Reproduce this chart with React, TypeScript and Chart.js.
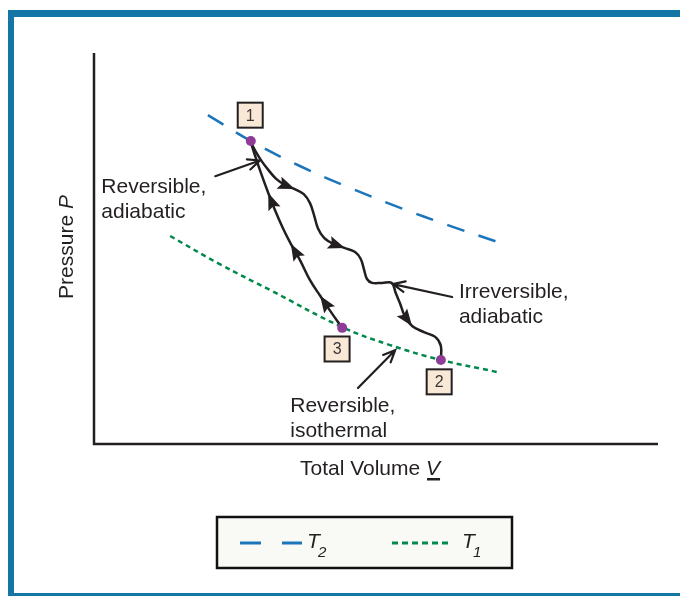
import React, { useEffect, useRef } from "react";
import { Chart, registerables } from "chart.js";
Chart.register(...registerables);

// ---------- DATA (volume V, pressure P in arbitrary units 0..100) ----------
const T2_V = [20.2, 27.8, 36.5, 45.4, 54.3, 63.1, 71.5];
const T2_P = [84.1, 77.5, 71.1, 65.5, 60.4, 55.8, 51.7];

const T1_V = [13.5, 22.3, 31.2, 44.0, 52.5, 61.5, 71.5];
const T1_P = [53.2, 46.0, 39.4, 29.9, 25.3, 21.5, 18.4];

// reversible adiabatic 1 <-> 3
const REV_V = [27.8, 28.7, 29.8, 30.9, 32.1, 33.5, 34.9, 36.5, 38.3, 40.1, 42.0, 44.0];
const REV_P = [77.2, 73.1, 68.5, 64.2, 59.8, 55.2, 51.2, 47.1, 41.9, 37.9, 33.8, 29.7];

// irreversible adiabatic 1 -> 2
const IRR_V = [27.8, 28.5, 29.6, 30.9, 32.3, 33.9, 35.6, 37.2, 38.3, 39.0, 39.7, 40.8, 42.4, 44.5, 46.3, 47.3, 47.9, 48.4, 49.3, 51.1, 52.8, 53.5, 54.3, 55.1, 56.4, 58.5, 60.5, 61.5, 61.5];
const IRR_P = [77.2, 75.2, 72.6, 70.1, 67.8, 66.2, 65.2, 63.9, 61.6, 58.6, 55.2, 52.7, 51.2, 50.1, 49.1, 47.3, 44.5, 42.2, 41.2, 41.2, 41.2, 38.6, 35.8, 32.7, 30.2, 28.6, 27.4, 25.1, 21.5];

// state points 1, 3, 2
const STATE_LABELS = ["1", "3", "2"];
const STATE_V = [27.8, 44.0, 61.5];
const STATE_P = [77.5, 29.7, 21.5];
const STATE_BOX_V = [27.7, 43.1, 61.2];
const STATE_BOX_P = [84.1, 24.3, 15.9];

// arrowheads: tip index, from index
const REV_ARROW_TIP = [3, 6, 9];
const REV_ARROW_FROM = [4, 7, 10];
const IRR_ARROW_TIP = [6, 13, 24];
const IRR_ARROW_FROM = [5, 12, 23];

// annotations
const NOTE_LINES = [["Reversible,", "adiabatic"], ["Irreversible,", "adiabatic"], ["Reversible,", "isothermal"]];
const NOTE_V = [1.3, 64.7, 34.8];
const NOTE_P = [64.2, 37.3, 8.2];
const POINTER_FROM_V = [21.5, 63.5, 46.8];
const POINTER_FROM_P = [68.5, 37.6, 14.3];
const POINTER_TO_V = [29.4, 53.0, 53.4];
const POINTER_TO_P = [72.5, 40.9, 24.0];

const X_TITLE = "Total Volume ";
const X_SYMBOL = "V";
const Y_TITLE = "Pressure ";
const Y_SYMBOL = "P";
const LEGEND_NAMES = ["T", "T"];
const LEGEND_SUBS = ["2", "1"];

const FONT = '"Liberation Sans", Arial, Helvetica, sans-serif';
const FS = 21;
const INK = "#231f20";
const BLUE = "#1b75bb";
const GREEN = "#00894b";
const FRAME = "#1675a7";
const PURPLE = "#8e3c97";

const pts = (xs: number[], ys: number[]) => xs.map((x, i) => ({ x, y: ys[i] }));

const decor = {
  id: "decor",
  beforeDraw(chart: any) {
    const ctx = chart.ctx;
    ctx.save();
    ctx.fillStyle = "#ffffff";
    ctx.fillRect(0, 0, chart.width, chart.height);
    ctx.fillStyle = FRAME;
    ctx.fillRect(8, 10, 672, 7);
    ctx.fillRect(8, 10, 6, 586);
    ctx.fillRect(8, 593, 672, 3);
    ctx.restore();
  },
  beforeDatasetsDraw(chart: any) {
    const ctx = chart.ctx;
    const a = chart.chartArea;
    ctx.save();
    ctx.strokeStyle = INK;
    ctx.lineWidth = 2.5;
    ctx.beginPath();
    ctx.moveTo(a.left, a.top);
    ctx.lineTo(a.left, a.bottom);
    ctx.lineTo(a.right, a.bottom);
    ctx.stroke();
    ctx.restore();
  },
  afterDatasetsDraw(chart: any) {
    const ctx = chart.ctx;
    const sx = chart.scales.x;
    const sy = chart.scales.y;
    const px = (v: number) => sx.getPixelForValue(v);
    const py = (p: number) => sy.getPixelForValue(p);
    ctx.save();

    // filled arrowheads on paths
    const head = (tx: number, ty: number, fx: number, fy: number) => {
      const ang = Math.atan2(ty - fy, tx - fx);
      const L = 17, W = 6.5;
      const bx = tx - L * Math.cos(ang), by = ty - L * Math.sin(ang);
      ctx.fillStyle = INK;
      ctx.beginPath();
      ctx.moveTo(tx, ty);
      ctx.lineTo(bx - W * Math.sin(ang), by + W * Math.cos(ang));
      ctx.lineTo(bx + 3 * Math.cos(ang), by + 3 * Math.sin(ang));
      ctx.lineTo(bx + W * Math.sin(ang), by - W * Math.cos(ang));
      ctx.closePath();
      ctx.fill();
    };
    REV_ARROW_TIP.forEach((t, i) => {
      const f = REV_ARROW_FROM[i];
      head(px(REV_V[t]), py(REV_P[t]), px(REV_V[f]), py(REV_P[f]));
    });
    IRR_ARROW_TIP.forEach((t, i) => {
      const f = IRR_ARROW_FROM[i];
      head(px(IRR_V[t]), py(IRR_P[t]), px(IRR_V[f]), py(IRR_P[f]));
    });

    // pointer arrows
    ctx.strokeStyle = INK;
    ctx.lineWidth = 2.2;
    ctx.lineCap = "round";
    POINTER_FROM_V.forEach((v, i) => {
      const x0 = px(v), y0 = py(POINTER_FROM_P[i]);
      const x1 = px(POINTER_TO_V[i]), y1 = py(POINTER_TO_P[i]);
      const ang = Math.atan2(y1 - y0, x1 - x0);
      ctx.beginPath();
      ctx.moveTo(x0, y0);
      ctx.lineTo(x1, y1);
      const L = 13, s = 0.42;
      ctx.moveTo(x1 - L * Math.cos(ang - s), y1 - L * Math.sin(ang - s));
      ctx.lineTo(x1, y1);
      ctx.lineTo(x1 - L * Math.cos(ang + s), y1 - L * Math.sin(ang + s));
      ctx.stroke();
    });

    // notes
    ctx.fillStyle = INK;
    ctx.font = `${FS}px ${FONT}`;
    ctx.textAlign = "left";
    ctx.textBaseline = "alphabetic";
    NOTE_LINES.forEach((lines, i) => {
      const x = px(NOTE_V[i]), y = py(NOTE_P[i]);
      lines.forEach((t, j) => ctx.fillText(t, x, y + j * 25));
    });

    // state boxes
    STATE_LABELS.forEach((lab, i) => {
      const cx = px(STATE_BOX_V[i]), cy = py(STATE_BOX_P[i]);
      ctx.fillStyle = "#f9e8d5";
      ctx.fillRect(cx - 12.5, cy - 12.5, 25, 25);
      ctx.strokeStyle = INK;
      ctx.lineWidth = 2;
      ctx.strokeRect(cx - 12.5, cy - 12.5, 25, 25);
      ctx.fillStyle = "#3a3536";
      ctx.font = `16px ${FONT}`;
      ctx.textAlign = "center";
      ctx.textBaseline = "middle";
      ctx.fillText(lab, cx, cy + 1);
    });

    // axis titles
    ctx.fillStyle = INK;
    ctx.textAlign = "left";
    ctx.textBaseline = "alphabetic";
    ctx.font = `${FS}px ${FONT}`;
    const w1 = ctx.measureText(X_TITLE).width;
    ctx.font = `italic ${FS}px ${FONT}`;
    const w2 = ctx.measureText(X_SYMBOL).width;
    const xStart = 370 - (w1 + w2) / 2;
    ctx.font = `${FS}px ${FONT}`;
    ctx.fillText(X_TITLE, xStart, 475);
    ctx.font = `italic ${FS}px ${FONT}`;
    ctx.fillText(X_SYMBOL, xStart + w1, 475);
    ctx.fillRect(xStart + w1 + 1, 478, w2 - 1, 2.5);

    ctx.save();
    ctx.translate(73, 247);
    ctx.rotate(-Math.PI / 2);
    ctx.font = `${FS}px ${FONT}`;
    const w3 = ctx.measureText(Y_TITLE).width;
    ctx.font = `italic ${FS}px ${FONT}`;
    const w4 = ctx.measureText(Y_SYMBOL).width;
    const ys = -(w3 + w4) / 2;
    ctx.font = `${FS}px ${FONT}`;
    ctx.fillText(Y_TITLE, ys, 0);
    ctx.font = `italic ${FS}px ${FONT}`;
    ctx.fillText(Y_SYMBOL, ys + w3, 0);
    ctx.restore();

    // legend
    ctx.fillStyle = "#f9f9f6";
    ctx.fillRect(217, 517, 295, 51);
    ctx.strokeStyle = "#111";
    ctx.lineWidth = 2.5;
    ctx.strokeRect(217, 517, 295, 51);
    ctx.lineCap = "butt";
    ctx.lineWidth = 2.8;
    ctx.strokeStyle = BLUE;
    ctx.setLineDash([21, 21]);
    ctx.beginPath();
    ctx.moveTo(240, 543);
    ctx.lineTo(302, 543);
    ctx.stroke();
    ctx.strokeStyle = GREEN;
    ctx.setLineDash([6, 4]);
    ctx.beginPath();
    ctx.moveTo(392, 543);
    ctx.lineTo(450, 543);
    ctx.stroke();
    ctx.setLineDash([]);
    const lx = [307, 462];
    LEGEND_NAMES.forEach((n, i) => {
      ctx.fillStyle = INK;
      ctx.font = `italic ${FS}px ${FONT}`;
      ctx.fillText(n, lx[i], 548);
      ctx.font = `italic 15px ${FONT}`;
      ctx.fillText(LEGEND_SUBS[i], lx[i] + 11, 557);
    });

    ctx.restore();
  },
};

export default function App() {
  const ref = useRef<HTMLCanvasElement>(null);
  useEffect(() => {
    if (!ref.current) return;
    const chart = new Chart(ref.current, {
      type: "scatter",
      data: {
        datasets: [
          {
            label: "States",
            data: pts(STATE_V, STATE_P),
            pointRadius: 5,
            pointBackgroundColor: PURPLE,
            pointBorderColor: PURPLE,
            pointBorderWidth: 0,
            showLine: false,
            order: 0,
          },
          {
            label: "T2",
            data: pts(T2_V, T2_P),
            showLine: true,
            borderColor: BLUE,
            borderWidth: 2.5,
            borderDash: [18, 15],
            pointRadius: 0,
            tension: 0.4,
            order: 2,
          },
          {
            label: "T1",
            data: pts(T1_V, T1_P),
            showLine: true,
            borderColor: GREEN,
            borderWidth: 2.5,
            borderDash: [5, 4],
            pointRadius: 0,
            tension: 0.4,
            order: 2,
          },
          {
            label: "Reversible adiabatic",
            data: pts(REV_V, REV_P),
            showLine: true,
            borderColor: INK,
            borderWidth: 2.5,
            pointRadius: 0,
            tension: 0.4,
            order: 1,
          },
          {
            label: "Irreversible adiabatic",
            data: pts(IRR_V, IRR_P),
            showLine: true,
            borderColor: INK,
            borderWidth: 2.5,
            pointRadius: 0,
            tension: 0.35,
            order: 1,
          },
        ],
      },
      options: {
        responsive: false,
        animation: false,
        devicePixelRatio: 1,
        events: [],
        layout: { padding: { left: 94, right: 22, top: 53, bottom: 152 } },
        scales: {
          x: { type: "linear", min: 0, max: 100, display: false },
          y: { type: "linear", min: 0, max: 100, display: false },
        },
        plugins: { legend: { display: false }, tooltip: { enabled: false } },
      },
      plugins: [decor],
    });
    return () => chart.destroy();
  }, []);
  return (
    <div style={{ position: "fixed", left: 0, top: 0, width: 680, height: 596 }}>
      <canvas ref={ref} width={680} height={596} style={{ display: "block" }} />
    </div>
  );
}
